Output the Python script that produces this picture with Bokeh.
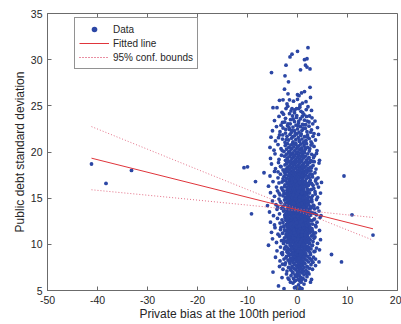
import math
from bokeh.plotting import figure
from bokeh.models import Range1d, FixedTicker, ColumnDataSource, Legend, LegendItem
from bokeh.embed import file_html
from bokeh.resources import INLINE

# ---- data: (private bias, public debt std) ----
outliers = [(-41.2, 18.7), (-38.3, 16.6), (-33.2, 18.0), (-10.7, 18.3), (-10.0, 18.4),
            (-8.4, 16.8), (-9.2, 13.3), (-6.7, 17.75), (9.3, 17.4), (10.9, 13.2),
            (15.1, 11.0), (6.8, 8.9), (8.8, 8.1)]

band_05 = [(-3.8,5.5),(-2.7,5.2),(-1.4,5.9),(-0.9,5.8),(-0.6,5.3),(-0.3,5.4),(0.0,5.1),(0.2,5.6),
           (0.4,5.0),(0.5,5.3),(0.7,5.9),(0.9,5.2),(1.3,5.7),(2.6,5.9)]
band_06 = [(-3.1,6.4),(-2.2,6.8),(-1.7,6.2),(-1.3,6.6),(-1.0,6.9),(-0.8,6.3),(-0.6,6.0),(-0.5,6.7),
           (-0.3,6.1),(-0.1,6.5),(0.0,6.9),(0.1,6.8),(0.2,6.2),(0.4,6.6),(0.5,6.0),(0.6,6.3),
           (0.7,6.4),(0.9,6.9),(1.1,6.3),(1.3,6.7),(1.6,6.1),(1.9,6.5),(2.3,6.8),(2.8,6.2)]
band_07 = [(-4.9,7.0),(-3.6,7.6),(-2.9,7.3),(-2.5,7.8),(-2.1,7.1),(-1.8,7.5),(-1.5,7.9),(-1.3,7.2),
           (-1.1,7.6),(-0.9,7.0),(-0.7,7.4),(-0.6,7.8),(-0.4,7.3),(-0.2,7.7),(-0.1,7.1),(0.0,7.5),
           (0.2,7.9),(0.3,7.2),(0.4,7.6),(0.5,7.0),(0.6,7.4),(0.8,7.8),(0.9,7.3),(1.0,7.7),
           (1.2,7.1),(1.3,7.5),(1.5,7.9),(1.7,7.2),(1.9,7.6),(2.1,7.0),(2.4,7.4),(2.7,7.8),
           (3.0,7.3),(3.6,7.7),(0.1,7.0),(0.7,7.9)]
band_08 = [(-4.4,8.6),(-3.5,8.2),(-3.0,8.9),(-2.7,8.4),(-2.4,8.0),(-2.2,8.7),(-1.9,8.3),(-1.7,8.8),
           (-1.5,8.1),(-1.4,8.5),(-1.2,8.9),(-1.0,8.2),(-0.9,8.6),(-0.8,8.0),(-0.6,8.4),(-0.5,8.8),
           (-0.4,8.3),(-0.3,8.7),(-0.2,8.1),(-0.1,8.5),(0.0,8.9),(0.1,8.2),(0.2,8.6),(0.3,8.0),
           (0.4,8.4),(0.5,8.7),(0.6,8.3),(0.7,8.9),(0.8,8.1),(0.9,8.5),(1.0,8.8),(1.1,8.2),
           (1.2,8.6),(1.3,8.0),(1.5,8.4),(1.6,8.9),(1.8,8.3),(2.0,8.7),(2.2,8.1),(2.4,8.5),
           (2.6,8.9),(2.9,8.2),(3.2,8.6),(3.6,8.4),(4.3,8.1),(-0.7,8.7),(0.3,8.5),(0.6,8.8),
           (-1.1,8.4),(1.4,8.7)]
band_09 = [(-5.8,9.9),(-4.1,9.3),(-3.4,9.7),(-3.0,9.1),(-2.6,9.5),(-2.3,9.8),(-2.1,9.2),(-1.9,9.6),
           (-1.75,9.0),(-1.6,9.4),(-1.45,9.9),(-1.3,9.3),(-1.15,9.7),(-1.0,9.1),(-0.85,9.5),(-0.75,9.85),
           (-0.65,9.2),(-0.55,9.6),(-0.45,9.0),(-0.35,9.4),(-0.25,9.8),(-0.15,9.3),(-0.05,9.7),(0.05,9.1),
           (0.15,9.5),(0.25,9.9),(0.35,9.2),(0.45,9.6),(0.55,9.0),(0.65,9.4),(0.75,9.8),(0.85,9.3),
           (0.95,9.7),(1.05,9.1),(1.15,9.5),(1.25,9.9),(1.35,9.2),(1.5,9.6),(1.65,9.0),(1.8,9.4),
           (1.95,9.8),(2.1,9.3),(2.3,9.7),(2.5,9.1),(2.7,9.5),(3.0,9.9),(3.3,9.2),(3.8,9.6),
           (4.4,9.4),(-0.6,9.75),(0.3,9.45),(0.9,9.05),(-1.2,9.55),(1.4,9.75),(0.1,9.25),(-0.3,9.65),
           (0.6,9.15),(2.0,9.55),(-2.0,9.35),(1.0,9.85)]
band_10 = [(-5.0,10.6),(-4.2,10.2),(-3.6,10.9),(-3.2,10.4),(-2.8,10.1),(-2.6,10.7),(3.1,10.3),(3.5,10.8),
           (4.0,10.1),(4.6,10.5),(2.8,10.9),(-2.4,10.35),
           (-2.2,10.8),(-2.05,10.2),(-1.9,10.55),(-1.8,10.9),(-1.7,10.3),(-1.6,10.65),(-1.5,10.05),(-1.4,10.45),
           (-1.3,10.85),(-1.2,10.25),(-1.1,10.6),(-1.0,10.95),(-0.9,10.15),(-0.8,10.5),(-0.7,10.8),(-0.6,10.3),
           (-0.5,10.7),(-0.4,10.0),(-0.3,10.4),(-0.2,10.75),(-0.1,10.2),(0.0,10.55),(0.1,10.9),(0.2,10.35),
           (0.3,10.7),(0.4,10.1),(0.5,10.45),(0.6,10.85),(0.7,10.25),(0.8,10.6),(0.9,10.95),(1.0,10.15),
           (1.1,10.5),(1.2,10.8),(1.3,10.3),(1.4,10.65),(1.5,10.05),(1.6,10.4),(1.7,10.75),(1.8,10.2),
           (1.9,10.55),(2.0,10.9),(2.1,10.35),(2.25,10.7),(2.4,10.1),(2.55,10.5),(-0.05,10.9),(0.35,10.05),
           (0.75,10.5),(-0.45,10.55),(1.15,10.0),(0.55,10.25),(-0.85,10.75),(0.15,10.6)]
band_11 = [(-5.2,11.3),(-4.5,11.8),(-3.9,11.1),(-3.4,11.6),(-3.0,11.2),(-2.7,11.9),(-2.5,11.45),(2.9,11.7),
           (3.3,11.2),(3.7,11.9),(4.4,11.5),(3.1,11.0),(2.7,11.35),
           (-2.3,11.05),(-2.15,11.5),(-2.0,11.85),(-1.9,11.25),(-1.8,11.6),(-1.7,11.0),(-1.6,11.4),(-1.5,11.75),
           (-1.4,11.15),(-1.3,11.55),(-1.2,11.9),(-1.1,11.3),(-1.0,11.65),(-0.9,11.05),(-0.8,11.45),(-0.7,11.8),
           (-0.6,11.2),(-0.5,11.6),(-0.4,11.95),(-0.3,11.35),(-0.2,11.7),(-0.1,11.1),(0.0,11.5),(0.1,11.85),
           (0.2,11.25),(0.3,11.6),(0.4,11.0),(0.5,11.4),(0.6,11.75),(0.7,11.15),(0.8,11.55),(0.9,11.9),
           (1.0,11.3),(1.1,11.65),(1.2,11.05),(1.3,11.45),(1.4,11.8),(1.5,11.2),(1.6,11.6),(1.7,11.95),
           (1.8,11.35),(1.9,11.7),(2.0,11.1),(2.15,11.5),(2.3,11.85),(2.45,11.25),(2.6,11.6),(0.05,11.3),
           (0.45,11.7),(-0.35,11.05),(0.85,11.0),(-0.75,11.55),(1.25,11.85),(0.25,11.45),(-0.15,11.9),(0.65,11.35),
           (1.55,11.0)]
band_12 = [(-5.4,12.4),(-4.6,12.1),(-4.0,12.8),(-3.5,12.3),(-3.1,12.65),(-2.7,12.0),(-2.5,12.9),(3.0,12.2),
           (3.4,12.75),(3.9,12.4),(4.5,12.9),(2.8,12.55),(3.6,12.05),
           (-2.35,12.6),(-2.2,12.15),(-2.05,12.85),(-1.95,12.35),(-1.85,12.7),(-1.75,12.05),(-1.65,12.45),(-1.55,12.8),
           (-1.45,12.2),(-1.35,12.55),(-1.25,12.95),(-1.15,12.3),(-1.05,12.65),(-0.95,12.0),(-0.85,12.4),(-0.75,12.75),
           (-0.65,12.15),(-0.55,12.5),(-0.45,12.9),(-0.35,12.25),(-0.25,12.6),(-0.15,12.05),(-0.05,12.45),(0.05,12.8),
           (0.15,12.2),(0.25,12.55),(0.35,12.95),(0.45,12.3),(0.55,12.7),(0.65,12.1),(0.75,12.45),(0.85,12.85),
           (0.95,12.25),(1.05,12.6),(1.15,12.0),(1.25,12.4),(1.35,12.75),(1.45,12.15),(1.55,12.5),(1.65,12.9),
           (1.75,12.3),(1.85,12.65),(1.95,12.05),(2.1,12.45),(2.25,12.8),(2.4,12.2),(2.55,12.6),(0.0,12.3),
           (0.4,12.0),(-0.4,12.7),(0.8,12.55),(-0.8,12.2),(1.2,12.85),(0.2,12.9),(-0.2,12.35),(0.6,12.4),
           (1.0,12.1)]
band_13 = [(-5.6,13.5),(-4.8,13.1),(-4.1,13.8),(-3.6,13.3),(-3.2,13.9),(-2.8,13.6),(-2.55,13.15),(3.0,13.4),
           (3.4,13.85),(3.8,13.2),(4.3,13.6),(2.75,13.95),(4.7,13.1),
           (-2.4,13.25),(-2.25,13.7),(-2.1,13.05),(-2.0,13.45),(-1.9,13.85),(-1.8,13.2),(-1.7,13.55),(-1.6,13.95),
           (-1.5,13.3),(-1.4,13.65),(-1.3,13.0),(-1.2,13.4),(-1.1,13.8),(-1.0,13.15),(-0.9,13.5),(-0.8,13.9),
           (-0.7,13.25),(-0.6,13.6),(-0.5,13.05),(-0.4,13.45),(-0.3,13.8),(-0.2,13.2),(-0.1,13.55),(0.0,13.95),
           (0.1,13.35),(0.2,13.7),(0.3,13.1),(0.4,13.5),(0.5,13.85),(0.6,13.25),(0.7,13.6),(0.8,13.0),
           (0.9,13.4),(1.0,13.75),(1.1,13.15),(1.2,13.55),(1.3,13.9),(1.4,13.3),(1.5,13.65),(1.6,13.05),
           (1.7,13.45),(1.8,13.8),(1.9,13.2),(2.0,13.6),(2.15,13.0),(2.3,13.4),(2.45,13.75),(2.6,13.15),
           (0.05,13.05),(0.45,13.3),(-0.35,13.55),(0.85,13.7),(-0.75,13.05),(1.25,13.4),(0.25,13.9),(-0.15,13.5),
           (0.65,13.95)]
band_14 = [(-6.0,14.2),(-5.0,14.7),(-4.3,14.3),(-3.7,14.9),(-3.3,14.5),(-2.9,14.1),(-2.6,14.8),(2.9,14.6),
           (3.3,14.15),(3.8,14.85),(4.4,14.4),(2.7,14.05),
           (-2.35,14.45),(-2.2,14.9),(-2.05,14.25),(-1.95,14.6),(-1.85,14.0),(-1.75,14.4),(-1.65,14.8),(-1.55,14.15),
           (-1.45,14.55),(-1.35,14.95),(-1.25,14.3),(-1.15,14.7),(-1.05,14.05),(-0.95,14.45),(-0.85,14.85),(-0.75,14.2),
           (-0.65,14.6),(-0.55,14.0),(-0.45,14.35),(-0.35,14.75),(-0.25,14.1),(-0.15,14.5),(-0.05,14.9),(0.05,14.25),
           (0.15,14.65),(0.25,14.05),(0.35,14.4),(0.45,14.8),(0.55,14.15),(0.65,14.55),(0.75,14.95),(0.85,14.3),
           (0.95,14.7),(1.05,14.1),(1.15,14.45),(1.25,14.85),(1.35,14.2),(1.45,14.6),(1.55,14.0),(1.65,14.4),
           (1.75,14.75),(1.85,14.15),(1.95,14.5),(2.1,14.9),(2.25,14.3),(2.4,14.65),(2.55,14.05),(0.0,14.6),
           (0.4,14.2),(-0.4,14.85),(0.8,14.4),(-0.8,14.5),(1.2,14.05),(0.2,14.3)]
band_15 = [(-5.4,15.6),(-4.6,15.2),(-4.0,15.8),(-3.5,15.35),(-3.0,15.9),(-2.7,15.5),(3.0,15.25),(3.5,15.7),
           (4.0,15.1),(4.6,15.55),(2.8,15.95),
           (-2.4,15.1),(-2.25,15.5),(-2.1,15.85),(-2.0,15.25),(-1.9,15.65),(-1.8,15.0),(-1.7,15.4),(-1.6,15.8),
           (-1.5,15.2),(-1.4,15.55),(-1.3,15.95),(-1.2,15.35),(-1.1,15.7),(-1.0,15.05),(-0.9,15.45),(-0.8,15.85),
           (-0.7,15.25),(-0.6,15.6),(-0.5,15.0),(-0.4,15.4),(-0.3,15.75),(-0.2,15.15),(-0.1,15.5),(0.0,15.9),
           (0.1,15.3),(0.2,15.65),(0.3,15.05),(0.4,15.45),(0.5,15.8),(0.6,15.2),(0.7,15.55),(0.8,15.95),
           (0.9,15.35),(1.0,15.7),(1.1,15.1),(1.2,15.5),(1.3,15.85),(1.45,15.25),(1.6,15.6),(1.75,15.0),
           (1.9,15.4),(2.05,15.75),(2.2,15.15),(2.4,15.55),(2.6,15.9),(0.05,15.45),(0.45,15.1),(-0.35,15.25),
           (0.85,15.6),(-0.75,15.9),(0.25,15.75)]
band_16 = [(-5.8,16.3),(-4.9,16.8),(-4.2,16.2),(-3.7,16.65),(-3.2,16.1),(-2.8,16.9),(3.1,16.4),(3.6,16.85),
           (4.2,16.2),(2.8,16.6),(4.8,16.7),
           (-2.5,16.45),(-2.3,16.85),(-2.15,16.2),(-2.0,16.6),(-1.85,16.0),(-1.7,16.4),(-1.55,16.8),(-1.4,16.15),
           (-1.3,16.55),(-1.2,16.95),(-1.1,16.3),(-1.0,16.7),(-0.9,16.05),(-0.8,16.45),(-0.7,16.85),(-0.6,16.25),
           (-0.5,16.6),(-0.4,16.0),(-0.3,16.4),(-0.2,16.75),(-0.1,16.15),(0.0,16.5),(0.1,16.9),(0.2,16.3),
           (0.3,16.65),(0.4,16.05),(0.5,16.45),(0.6,16.8),(0.7,16.2),(0.8,16.55),(0.9,16.95),(1.0,16.35),
           (1.1,16.7),(1.25,16.1),(1.4,16.5),(1.55,16.85),(1.7,16.25),(1.85,16.6),(2.0,16.0),(2.2,16.4),
           (2.4,16.75),(0.05,16.1),(0.45,16.7),(-0.35,16.95),(0.85,16.25)]
band_17 = [(-5.5,17.4),(-4.6,17.9),(-3.9,17.2),(-3.4,17.6),(-2.9,17.1),(-2.6,17.8),(3.0,17.3),(3.5,17.75),
           (4.1,17.2),(2.7,17.95),
           (-2.4,17.55),(-2.2,17.15),(-2.0,17.85),(-1.85,17.4),(-1.7,17.0),(-1.55,17.65),(-1.4,17.25),(-1.3,17.9),
           (-1.2,17.5),(-1.1,17.1),(-1.0,17.75),(-0.9,17.35),(-0.8,17.95),(-0.7,17.55),(-0.6,17.15),(-0.5,17.8),
           (-0.4,17.4),(-0.3,17.0),(-0.2,17.65),(-0.1,17.25),(0.0,17.9),(0.1,17.5),(0.2,17.1),(0.3,17.7),
           (0.4,17.3),(0.5,17.95),(0.6,17.55),(0.7,17.2),(0.8,17.8),(0.9,17.4),(1.0,17.05),(1.15,17.65),
           (1.3,17.3),(1.45,17.9),(1.6,17.5),(1.75,17.1),(1.9,17.75),(2.1,17.35),(2.3,17.95),(2.5,17.6)]
band_18 = [(-5.2,18.7),(-4.4,18.2),(-3.8,18.85),(-3.3,18.4),(-2.9,18.05),(3.1,18.55),(3.7,18.15),(4.3,18.8),
           (2.8,18.3),
           (-2.5,18.6),(-2.3,18.15),(-2.1,18.8),(-1.95,18.35),(-1.8,18.95),(-1.65,18.5),(-1.5,18.1),(-1.35,18.7),
           (-1.2,18.3),(-1.05,18.9),(-0.9,18.45),(-0.75,18.05),(-0.6,18.65),(-0.45,18.25),(-0.3,18.85),(-0.15,18.4),
           (0.0,18.0),(0.15,18.6),(0.3,18.2),(0.45,18.8),(0.6,18.35),(0.75,18.95),(0.9,18.55),(1.05,18.1),
           (1.2,18.7),(1.35,18.3),(1.5,18.9),(1.65,18.45),(1.8,18.05),(2.0,18.65),(2.2,18.25),(2.45,18.85),
           (-0.05,18.5),(0.55,18.15),(1.0,18.4)]
band_19 = [(-5.4,19.3),(-4.5,19.8),(-3.7,19.2),(-3.2,19.65),(3.2,19.4),(3.8,19.85),(4.4,19.1),(2.9,19.0),
           (-2.6,19.55),(-2.4,19.1),(-2.2,19.75),(-2.0,19.35),(-1.8,19.95),(-1.6,19.5),(-1.4,19.05),(-1.25,19.7),
           (-1.1,19.3),(-0.95,19.9),(-0.8,19.45),(-0.65,19.0),(-0.5,19.6),(-0.35,19.2),(-0.2,19.85),(-0.05,19.4),
           (0.1,19.0),(0.25,19.65),(0.4,19.25),(0.55,19.9),(0.7,19.5),(0.85,19.1),(1.0,19.75),(1.2,19.35),
           (1.4,19.95),(1.6,19.55),(1.8,19.15),(2.05,19.8),(2.3,19.4),(2.6,19.05)]
band_20 = [(-5.5,20.5),(-4.7,20.2),(-3.9,20.8),(-3.3,20.35),(3.3,20.6),(3.9,20.15),(2.9,20.9),
           (-2.7,20.05),(-2.45,20.7),(-2.2,20.3),(-2.0,20.9),(-1.75,20.5),(-1.55,20.1),(-1.35,20.75),(-1.15,20.35),
           (-0.95,20.95),(-0.75,20.55),(-0.55,20.15),(-0.35,20.8),(-0.15,20.4),(0.05,20.0),(0.25,20.65),(0.45,20.25),
           (0.65,20.85),(0.85,20.45),(1.05,20.05),(1.3,20.7),(1.55,20.3),(1.8,20.9),(2.05,20.5),(2.35,20.1),
           (2.7,20.75)]
band_21 = [(-5.3,21.6),(-4.4,21.2),(-3.6,21.85),(-3.0,21.4),(-2.5,21.05),(-2.1,21.7),(-1.8,21.3),(-1.5,21.9),
           (-1.2,21.5),(-0.9,21.1),(-0.6,21.75),(-0.35,21.35),(-0.1,21.95),(0.15,21.55),(0.4,21.15),(0.65,21.8),
           (0.9,21.4),(1.15,21.0),(1.4,21.65),(1.7,21.25),(2.0,21.85),(2.35,21.45),(2.7,21.1),(3.1,21.7),
           (3.6,21.3),(4.2,21.9)]
band_22 = [(-5.0,22.3),(-4.2,22.75),(-3.5,22.2),(-2.9,22.6),(-2.4,22.05),(-2.0,22.85),(-1.6,22.45),(-1.25,22.1),
           (-0.9,22.7),(-0.6,22.3),(-0.3,22.9),(0.0,22.5),(0.3,22.15),(0.6,22.75),(0.9,22.35),(1.2,22.95),
           (1.55,22.55),(1.9,22.2),(2.3,22.8),(2.8,22.4),(3.3,22.0),(4.0,22.65)]
band_23 = [(-4.6,23.4),(-3.7,23.85),(-3.0,23.2),(-2.4,23.65),(-1.9,23.05),(-1.4,23.5),(-1.0,23.9),(-0.6,23.3),
           (-0.2,23.75),(0.2,23.15),(0.6,23.6),(1.0,23.0),(1.4,23.45),(1.8,23.85),(2.3,23.25),(2.9,23.7),
           (3.5,23.35)]
band_24 = [(2.1,24.9),(-4.9,24.8),(-4.1,24.8),(-2.3,24.7),(-1.1,24.7),(-0.2,24.7),(0.2,24.7),(-3.1,24.3),
           (-1.6,24.15),(0.7,24.4),(1.3,24.05),(2.8,24.5),(-0.6,24.25)]
band_25 = [(2.6,25.9),(-3.6,25.6),(-2.9,25.65),(-1.6,25.65),(-0.8,25.5),(0.0,25.7),(1.0,25.3),(-2.1,25.2),
           (1.7,25.45),(0.5,25.1)]
band_26 = [(-2.6,26.8),(-1.9,26.3),(0.0,26.2),(0.3,26.1),(0.8,26.4),(1.4,26.55)]
band_27 = [(-1.8,27.6),(2.5,27.0)]
band_28 = [(0.6,28.9),(-5.2,28.6),(-2.5,28.25)]
band_29 = [(-2.3,29.4),(1.6,29.4),(1.9,29.2),(2.5,29.0)]
band_30 = [(0.0,30.9),(-1.1,30.6),(-1.5,30.3),(1.9,30.1),(1.4,30.0)]
band_31 = [(2.1,31.3)]

# extra points filling the cloud where the picture is solid blue
fill_upper = [(-2.8,24.1),(-1.3,24.45),(0.45,24.85),(1.75,24.6),(-0.85,23.55),(2.4,23.9),(-3.3,22.9),(-1.7,22.65),
              (0.25,23.35),(1.15,22.55),(-0.45,22.05),(2.05,21.6),(-2.25,21.35),(0.75,21.95),(-1.05,20.85),(1.55,20.45),
              (-3.05,20.15),(0.05,20.55),(2.85,19.75),(-0.65,19.65),(-1.95,24.95),(1.05,24.25),(-0.15,23.95),(3.05,23.05),
              (-2.55,23.25),(0.95,23.85),(-1.15,22.35),(1.65,22.95),(-3.8,21.55),(0.35,21.25),(-0.35,20.95),(2.45,20.35),
              (-1.55,19.85),(1.25,19.55),(-2.05,19.25),(0.65,19.15),(3.4,19.6),(-0.95,21.65),(1.95,23.35),(-2.35,22.45),
              (0.15,22.85),(-1.45,23.05),(2.65,22.15),(-0.55,24.55),(1.45,21.15),(-2.95,21.85),(0.85,20.25),(-1.25,20.35),
              (2.25,19.35),(-0.25,19.95)]
fill_mid = [(-3.4,18.45),(-2.7,17.35),(3.35,18.95),(2.95,17.55),(-3.1,16.75),(3.25,16.05),(-2.9,15.25),(3.55,15.45),
            (-3.45,14.65),(3.15,14.25),(-2.65,13.75),(3.45,13.35),(-2.2,18.75),(2.6,18.35),(-2.45,17.95),(2.35,17.25),
            (-2.6,16.25),(2.55,16.95),(-2.75,15.75),(2.75,15.05),(-2.5,14.35),(2.85,14.85),(-2.3,13.35),(2.5,13.55),
            (-1.85,18.15),(1.95,18.95),(-1.65,17.55),(1.7,17.85),(-1.9,16.65),(1.8,16.35),(-1.55,15.95),(1.65,15.35),
            (-1.75,14.95),(1.9,14.25),(-1.6,13.45),(2.05,13.85),(-0.95,18.75),(0.95,17.45),(-0.45,16.85),(0.55,16.15),
            (-0.85,15.35),(0.35,14.75),(-0.25,13.65),(1.35,13.15),(3.7,17.05),(-3.7,15.55),(3.9,16.55),(-3.9,17.85),
            (4.0,13.95),(-3.95,14.05)]
fill_low = [(-2.9,12.35),(3.2,12.65),(-2.6,11.55),(3.0,11.45),(-2.8,10.45),(3.3,10.65),(-2.5,9.65),(2.9,9.85),
            (-2.3,8.55),(2.75,8.35),(-1.95,12.85),(2.35,12.15),(-2.15,11.15),(2.5,11.85),(-1.85,10.35),(2.3,10.25),
            (-2.0,9.15),(2.2,9.45),(-1.6,8.15),(1.95,7.55),(-1.25,12.25),(1.55,12.65),(-0.65,11.25),(0.95,11.35),
            (-1.35,10.05),(1.25,9.95),(-0.95,8.95),(0.75,8.15),(-1.45,7.35),(1.15,7.05),(-3.3,11.85),(3.6,11.25),
            (-3.2,9.05),(3.5,9.25),(-3.0,7.85),(3.1,8.05),(-0.35,6.55),(0.85,6.15),(1.75,6.85),(-1.9,6.35)]

# fitted line and 95% confidence bounds
fit_x = [-41.2, 15.1]
fit_y = [19.33, 11.68]
bound_x = [-41.2, -30, -20, -10, -5, 0, 5, 10, 15.1]
upper_y = [22.75, 20.30, 18.11, 15.93, 14.84, 13.85, 13.47, 13.19, 12.91]
lower_y = [15.91, 15.32, 14.79, 14.25, 13.98, 13.61, 12.63, 11.55, 10.45]

x_ticks = [-50, -40, -30, -20, -10, 0, 10, 20]
x_tick_labels = ["-50", "-40", "-30", "-20", "-10", "0", "10", "20"]
y_ticks = [5, 10, 15, 20, 25, 30, 35]
y_tick_labels = ["5", "10", "15", "20", "25", "30", "35"]

bands = [band_05, band_06, band_07, band_08, band_09, band_10, band_11, band_12, band_13,
         band_14, band_15, band_16, band_17, band_18, band_19, band_20, band_21, band_22,
         band_23, band_24, band_25, band_26, band_27, band_28, band_29, band_30, band_31,
         fill_upper, fill_mid, fill_low, outliers]
pts = [pt for b in bands for pt in b]
src = ColumnDataSource(dict(x=[pt[0] for pt in pts], y=[pt[1] for pt in pts]))

FONT = "Liberation Sans"
AX = "#6b6b6b"
TXT = "#262626"
X0, X1, Y0, Y1 = -50, 20, 5, 35

p = figure(frame_width=350, frame_height=277, output_backend="svg", toolbar_location=None,
           x_range=Range1d(X0, X1), y_range=Range1d(Y0, Y1),
           min_border_left=47, min_border_top=13, min_border_right=4, min_border_bottom=34)
p.grid.visible = False
p.outline_line_color = AX
p.background_fill_color = "white"
p.border_fill_color = "white"

r_data = p.scatter(x="x", y="y", source=src, size=3.8, marker="circle",
                   fill_color="#2c47a5", line_color=None)
r_fit = p.line(fit_x, fit_y, line_color="#e0353b", line_width=1)
r_up = p.line(bound_x, upper_y, line_color="#e0607a", line_width=1, line_dash="1 2", line_alpha=0.9)
r_lo = p.line(bound_x, lower_y, line_color="#e0607a", line_width=1, line_dash="1 2", line_alpha=0.9)

# inward ticks on the top and right edges of the box
p.ray(x=x_ticks, y=[Y1] * len(x_ticks), length=4, length_units="screen",
      angle=-math.pi / 2, line_color=AX, line_width=1)
p.ray(x=[X1] * len(y_ticks), y=y_ticks, length=4, length_units="screen",
      angle=math.pi, line_color=AX, line_width=1)

for ax, ticks, labels in ((p.xaxis[0], x_ticks, x_tick_labels), (p.yaxis[0], y_ticks, y_tick_labels)):
    ax.ticker = FixedTicker(ticks=ticks)
    ax.major_label_overrides = {t: l for t, l in zip(ticks, labels)}
    ax.minor_tick_line_color = None
    ax.major_tick_in = 4
    ax.major_tick_out = 0
    ax.axis_line_color = AX
    ax.major_tick_line_color = AX
    ax.major_label_text_font = FONT
    ax.major_label_text_color = TXT
    ax.major_label_text_font_size = "10.5px"
    ax.axis_label_text_font = FONT
    ax.axis_label_text_color = TXT
    ax.axis_label_text_font_style = "normal"
    ax.axis_label_text_font_size = "12px"

p.xaxis[0].axis_label = "Private bias at the 100th period"
p.yaxis[0].axis_label = "Public debt standard deviation"
p.xaxis[0].major_label_standoff = 5
p.xaxis[0].axis_label_standoff = 0
p.yaxis[0].major_label_standoff = 5
p.yaxis[0].axis_label_standoff = 1

legend = Legend(items=[LegendItem(label="Data", renderers=[r_data]),
                       LegendItem(label="Fitted line", renderers=[r_fit]),
                       LegendItem(label="95% conf. bounds", renderers=[r_up, r_lo])],
                location=(27, 221))
legend.label_text_font = FONT
legend.label_text_font_size = "10px"
legend.label_text_color = TXT
legend.glyph_width = 30
legend.glyph_height = 14
legend.label_height = 14
legend.label_standoff = 4
legend.padding = 4
legend.spacing = 0
legend.margin = 0
legend.border_line_color = "#262626"
legend.border_line_width = 1
legend.background_fill_color = "white"
legend.background_fill_alpha = 1
p.add_layout(legend, "center")

open("out.html", "w").write(file_html(p, INLINE))
